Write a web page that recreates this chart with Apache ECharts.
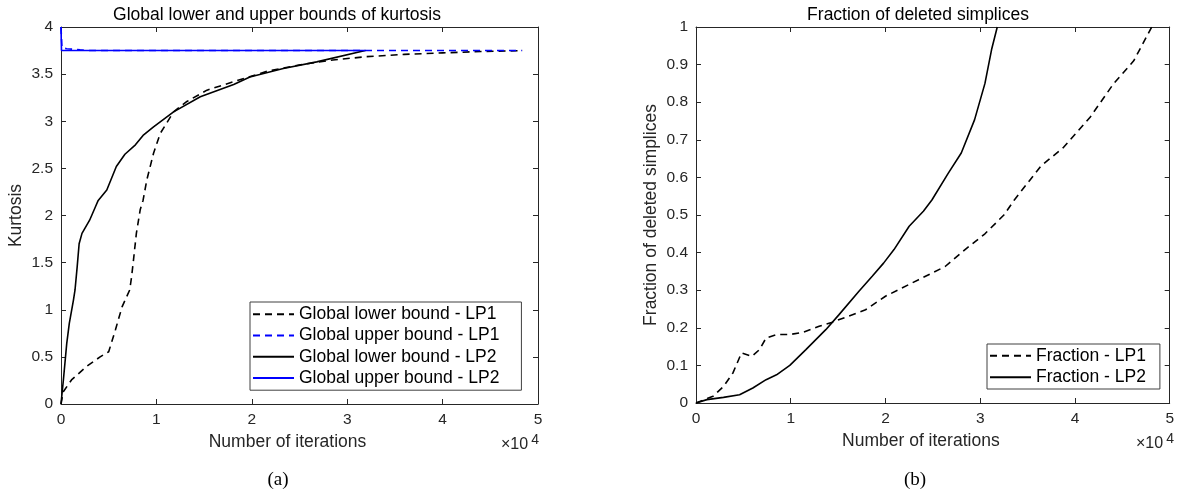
<!DOCTYPE html>
<html>
<head>
<meta charset="utf-8">
<script src="https://cdn.jsdelivr.net/npm/echarts@6/dist/echarts.min.js"></script>
<style>html,body{margin:0;padding:0;background:#fff;}#c{width:1177px;height:493px;}</style>
</head>
<body>
<div id="c"></div>
<script>
// x values in units of 1e4 iterations
const lb1X = [0, 0.024, 0.11, 0.27, 0.41, 0.50, 0.57, 0.64, 0.72, 0.74, 0.76, 0.79, 0.83, 0.86, 0.90, 0.97, 1.04, 1.18, 1.32, 1.53, 1.81, 2.16, 2.51, 2.85, 3.20, 3.6, 4.0, 4.4, 4.84];
const lb1Y = [0, 0.13, 0.255, 0.40, 0.50, 0.555, 0.785, 1.03, 1.21, 1.35, 1.53, 1.81, 2.06, 2.16, 2.38, 2.66, 2.87, 3.10, 3.21, 3.33, 3.42, 3.53, 3.60, 3.65, 3.685, 3.71, 3.725, 3.74, 3.75];
const ub1X = [0, 0.01, 0.06, 0.2, 0.3, 4.83];
const ub1Y = [4, 3.78, 3.77, 3.757, 3.75, 3.75];
const lb2X = [0, 0.025, 0.06, 0.087, 0.13, 0.147, 0.17, 0.19, 0.22, 0.30, 0.36, 0.39, 0.48, 0.58, 0.67, 0.78, 0.86, 0.97, 1.18, 1.46, 1.81, 1.98, 2.33, 2.68, 3.19];
const lb2Y = [0, 0.255, 0.64, 0.855, 1.10, 1.21, 1.46, 1.70, 1.81, 1.95, 2.09, 2.16, 2.27, 2.52, 2.65, 2.75, 2.85, 2.94, 3.10, 3.26, 3.39, 3.47, 3.56, 3.63, 3.75];
const ub2X = [0, 0.005, 3.19];
const ub2Y = [4, 3.75, 3.75];

const fr1X = [0, 0.18, 0.29, 0.39, 0.48, 0.59, 0.67, 0.74, 0.85, 0.99, 1.13, 1.30, 1.44, 1.79, 2.0, 2.35, 2.63, 2.84, 3.05, 3.25, 3.36, 3.64, 3.88, 4.16, 4.41, 4.62, 4.81];
const fr1Y = [0, 0.018, 0.044, 0.08, 0.133, 0.124, 0.142, 0.173, 0.182, 0.182, 0.188, 0.204, 0.215, 0.248, 0.284, 0.328, 0.363, 0.408, 0.45, 0.50, 0.54, 0.63, 0.68, 0.76, 0.85, 0.91, 1.0];
const fr2X = [0, 0.115, 0.29, 0.46, 0.60, 0.74, 0.85, 0.99, 1.16, 1.37, 1.51, 1.72, 1.86, 1.98, 2.09, 2.25, 2.4, 2.49, 2.66, 2.80, 2.94, 3.05, 3.12, 3.18];
const fr2Y = [0, 0.009, 0.015, 0.022, 0.04, 0.062, 0.075, 0.10, 0.142, 0.195, 0.235, 0.297, 0.337, 0.372, 0.408, 0.47, 0.51, 0.54, 0.61, 0.665, 0.753, 0.85, 0.94, 1.0];

const titleA = 'Global lower and upper bounds of kurtosis';
const titleB = 'Fraction of deleted simplices';
const xName = 'Number of iterations';
const yNameA = 'Kurtosis';
const yNameB = 'Fraction of deleted simplices';
const namesA = ['Global lower bound - LP1', 'Global upper bound - LP1', 'Global lower bound - LP2', 'Global upper bound - LP2'];
const namesB = ['Fraction - LP1', 'Fraction - LP2'];

const zip = (xs, ys) => xs.map((x, i) => [x, ys[i]]);
const FONT = 'Liberation Sans';
const AX = '#262626';
const DASH = [7, 5];

function xAx(gi, showLabels, pos) {
  return {
    type: 'value', gridIndex: gi, min: 0, max: 5, interval: 1, position: pos,
    name: showLabels ? xName : '', nameLocation: 'middle', nameGap: 29,
    nameTextStyle: { fontFamily: FONT, fontSize: 17.5, color: AX, padding: [0, 24, 0, 0] },
    axisLine: { show: true, onZero: false, lineStyle: { color: AX, width: 1 } },
    axisTick: { show: true, inside: true, length: 5, lineStyle: { color: AX } },
    axisLabel: { show: showLabels, fontFamily: FONT, fontSize: 15.5, color: AX, margin: 8 },
    splitLine: { show: false }
  };
}
function yAx(gi, max, interval, showLabels, pos, name) {
  return {
    type: 'value', gridIndex: gi, min: 0, max: max, interval: interval, position: pos,
    name: showLabels ? name : '', nameLocation: 'middle', nameGap: 36,
    nameTextStyle: { fontFamily: FONT, fontSize: 17.5, color: AX },
    axisLine: { show: true, onZero: false, lineStyle: { color: AX, width: 1 } },
    axisTick: { show: true, inside: true, length: 5, lineStyle: { color: AX } },
    axisLabel: { show: showLabels, fontFamily: FONT, fontSize: 15.5, color: AX, margin: 8 },
    splitLine: { show: false }
  };
}
function ser(name, xi, yi, data, color, dashed) {
  return {
    name: name, type: 'line', xAxisIndex: xi, yAxisIndex: yi, data: data,
    symbol: 'none', animation: false, clip: true,
    lineStyle: { color: color, width: 1.6, type: dashed ? DASH : 'solid' },
    itemStyle: { color: color }
  };
}
const legendCommon = {
  orient: 'vertical', itemWidth: 41, itemHeight: 14, itemGap: 0,
  borderColor: '#404040', borderWidth: 1, backgroundColor: '#fff',
  itemStyle: { opacity: 0 },
  textStyle: { fontFamily: FONT, fontSize: 17.5, color: '#000', lineHeight: 21.3 }
};

const chart = echarts.init(document.getElementById('c'), null, { renderer: 'canvas' });
chart.setOption({
  animation: false,
  backgroundColor: '#fff',
  grid: [
    { left: 61, top: 27, width: 477, height: 377 },
    { left: 696, top: 27, width: 477, height: 376 }
  ],
  xAxis: [xAx(0, true, 'bottom'), xAx(0, false, 'top'), xAx(1, true, 'bottom'), xAx(1, false, 'top')],
  yAxis: [yAx(0, 4, 0.5, true, 'left', yNameA), yAx(0, 4, 0.5, false, 'right', ''),
          yAx(1, 1, 0.1, true, 'left', yNameB), yAx(1, 1, 0.1, false, 'right', '')],
  legend: [
    Object.assign({}, legendCommon, { left: 250, top: 302, padding: [1.5, 22, 1.5, 2], data: namesA }),
    Object.assign({}, legendCommon, { left: 987, top: 344, padding: [1.2, 14, 1.2, 2], data: namesB })
  ],
  series: [
    ser(namesA[0], 0, 0, zip(lb1X, lb1Y), '#000', true),
    ser(namesA[1], 0, 0, zip(ub1X, ub1Y), '#0000ff', true),
    ser(namesA[2], 0, 0, zip(lb2X, lb2Y), '#000', false),
    ser(namesA[3], 0, 0, zip(ub2X, ub2Y), '#0000ff', false),
    ser(namesB[0], 2, 2, zip(fr1X, fr1Y), '#000', true),
    ser(namesB[1], 2, 2, zip(fr2X, fr2Y), '#000', false)
  ],
  graphic: [
    { type: 'text', x: 277, y: 15, style: { text: titleA, fontFamily: FONT, fontSize: 17.5, fill: '#000', textAlign: 'center', textVerticalAlign: 'middle' } },
    { type: 'text', x: 918, y: 15, style: { text: titleB, fontFamily: FONT, fontSize: 17.5, fill: '#000', textAlign: 'center', textVerticalAlign: 'middle' } },
    { type: 'text', x: 501, y: 445, style: { text: '×10{s|4}', rich: { s: { fontSize: 14, verticalAlign: 'top', padding: [0, 0, 9, 3], fontFamily: FONT, fill: AX } }, fontFamily: FONT, fontSize: 16, fill: AX, textVerticalAlign: 'middle' } },
    { type: 'text', x: 1136, y: 444, style: { text: '×10{s|4}', rich: { s: { fontSize: 14, verticalAlign: 'top', padding: [0, 0, 9, 3], fontFamily: FONT, fill: AX } }, fontFamily: FONT, fontSize: 16, fill: AX, textVerticalAlign: 'middle' } },
    { type: 'text', x: 278, y: 480, style: { text: '(a)', fontFamily: 'Liberation Serif', fontSize: 19, fill: '#000', textAlign: 'center', textVerticalAlign: 'middle' } },
    { type: 'text', x: 915, y: 480, style: { text: '(b)', fontFamily: 'Liberation Serif', fontSize: 19, fill: '#000', textAlign: 'center', textVerticalAlign: 'middle' } }
  ]
});
</script>
</body>
</html>
